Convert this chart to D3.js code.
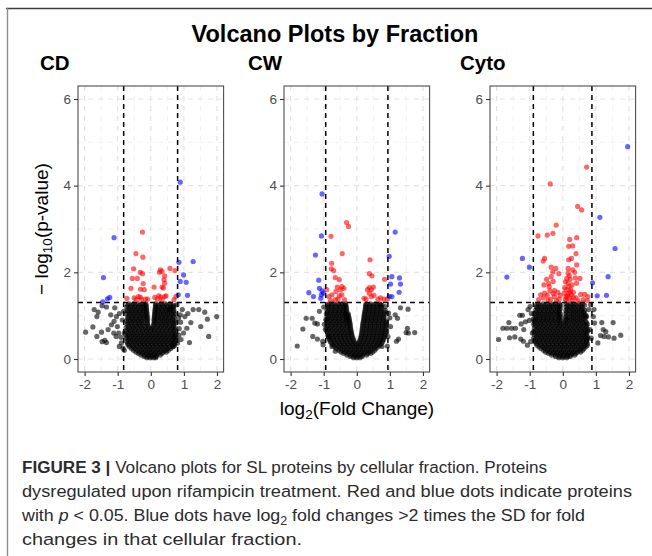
<!DOCTYPE html>
<html><head><meta charset="utf-8">
<script src="https://cdn.jsdelivr.net/npm/d3@7/dist/d3.min.js"></script>
<style>body{margin:0;background:#fff}svg{display:block}</style>
</head><body>
<svg id="c" width="652" height="556"></svg>
<script>
// ---------- data ----------
const panelNames = ["CD", "CW", "Cyto"];
const xTicks = [-2, -1, 0, 1, 2];
const yTicks = [0, 2, 4, 6];
const xMinor = [-1.5, -0.5, 0.5, 1.5];
const yMinor = [1, 3, 5];
const pCut = 1.301; // -log10(0.05)
const fcLow = [-0.82, -0.94, -0.89];
const fcHigh = [0.81, 0.94, 0.88];

const cdBlue = [[0.89,4.08],[-1.11,2.80],[0.85,2.23],[1.28,2.25],[-1.43,1.88],[0.99,1.94],[0.89,1.79],[1.07,1.77],[1.11,1.47],[0.83,1.48],[-1.24,1.42],[-1.31,1.39],[-1.45,1.32]];
const cdRed = [[-0.25,2.93],[-0.45,2.43],[-0.24,2.35],[-0.52,2.08],[-0.32,2.00],[-0.25,1.97],[-0.56,1.86],[-0.41,1.86],[-0.23,1.74],[-0.60,1.63],[-0.31,1.61],[-0.20,1.60],[-0.72,1.40],[-0.50,1.41],[-0.38,1.44],[-0.32,1.43],[-0.28,1.38],[-0.16,1.38],[-0.44,1.37],[0.10,1.66],[0.29,2.06],[0.34,2.02],[0.26,2.00],[0.42,1.92],[0.40,1.83],[0.58,2.09],[0.73,2.04],[0.42,1.75],[0.34,1.66],[0.38,1.64],[0.24,1.46],[0.30,1.43],[0.42,1.44],[0.12,1.42],[0.46,1.46],[0.70,1.37],[0.76,1.44],[0.20,1.38],[0.34,1.37],[-0.10,1.38]];
const cdBlack = [[-1.97,0.62],[-1.75,0.74],[-1.63,0.52],[-1.49,0.62],[-1.47,0.40],[-1.39,0.43],[-1.34,0.38],[-1.29,0.68],[-1.71,1.14],[-1.59,1.08],[-1.63,0.98],[-1.47,1.23],[-1.34,1.20],[-1.09,1.18],[-1.04,0.98],[-1.21,1.02],[-1.11,0.87],[-1.19,0.79],[-1.01,0.75],[-0.97,0.60],[-1.05,0.52],[-0.95,0.29],[-0.89,0.37],[-0.84,0.25],[1.28,1.14],[1.45,1.14],[1.63,1.08],[1.71,0.92],[1.99,0.98],[1.51,0.75],[1.75,0.52],[1.21,0.84],[1.17,0.38],[1.03,0.98],[0.89,1.02],[0.95,1.14],[1.09,0.71],[0.99,0.60],[0.91,0.45],[0.81,0.37],[0.68,0.29],[0.68,1.21],[0.79,1.25],[0.57,1.15],[-0.86,0.9],[-0.9,0.5],[0.86,0.7],[0.84,0.95],[-0.82,1.1],[-0.8,0.6],[-0.95,1.05],[-1.12,0.6],[0.85,0.55],[0.9,0.85],[1.12,1.05],[-0.8,0.2]];
const cdCore = [
 [0.03,[-0.12,-0.02,0.08,0.15]],
 [0.09,[-0.3,-0.19,-0.07,0.05,0.17,0.29]],
 [0.16,[-0.45,-0.34,-0.22,-0.1,0.02,0.14,0.26,0.38,0.47]],
 [0.24,[-0.58,-0.47,-0.35,-0.23,-0.11,0.01,0.13,0.25,0.37,0.49,0.6]],
 [0.32,[-0.68,-0.56,-0.44,-0.32,-0.2,-0.08,0.04,0.16,0.28,0.4,0.52,0.64,0.72]],
 [0.40,[-0.72,-0.61,-0.5,-0.38,-0.26,-0.14,-0.02,0.1,0.22,0.34,0.46,0.58,0.7]],
 [0.48,[-0.74,-0.63,-0.51,-0.39,-0.27,-0.15,-0.03,0.09,0.21,0.33,0.45,0.57,0.69,0.77]],
 [0.56,[-0.76,-0.65,-0.53,-0.41,-0.29,-0.17,-0.05,0.07,0.19,0.31,0.43,0.55,0.67,0.76]],
 [0.64,[-0.73,-0.61,-0.49,-0.37,-0.25,-0.13,-0.02,0.1,0.22,0.34,0.46,0.58,0.7]],
 [0.72,[-0.75,-0.64,-0.52,-0.4,-0.28,-0.16,-0.05,0.06,0.18,0.3,0.42,0.54,0.66,0.74]],
 [0.80,[-0.72,-0.6,-0.48,-0.36,-0.24,-0.1,0.09,0.22,0.34,0.46,0.58,0.7]],
 [0.88,[-0.74,-0.62,-0.5,-0.38,-0.26,-0.11,0.1,0.24,0.36,0.48,0.6,0.72]],
 [0.96,[-0.7,-0.58,-0.46,-0.34,-0.22,-0.11,0.11,0.22,0.34,0.46,0.58,0.7]],
 [1.04,[-0.74,-0.62,-0.5,-0.38,-0.26,-0.12,0.12,0.26,0.38,0.5,0.62,0.73]],
 [1.12,[-0.71,-0.59,-0.47,-0.35,-0.23,-0.13,0.13,0.24,0.36,0.48,0.6,0.7]],
 [1.20,[-0.73,-0.61,-0.49,-0.37,-0.25,-0.14,0.14,0.27,0.39,0.51,0.63]],
 [1.27,[-0.66,-0.52,-0.38,-0.26,-0.15,0.15,0.3,0.44,0.58]],
 [0.06,[-0.2,-0.08,0.04,0.16]],
 [0.13,[-0.38,-0.26,-0.14,-0.02,0.1,0.22,0.34]],
 [0.20,[-0.52,-0.4,-0.28,-0.16,-0.04,0.08,0.2,0.32,0.44,0.53]],
 [0.28,[-0.64,-0.52,-0.4,-0.28,-0.16,-0.04,0.08,0.2,0.32,0.44,0.56,0.66]],
 [0.36,[-0.7,-0.56,-0.44,-0.32,-0.2,-0.08,0.04,0.16,0.28,0.4,0.52,0.64,0.72]],
 [0.44,[-0.68,-0.56,-0.44,-0.32,-0.2,-0.08,0.04,0.16,0.28,0.4,0.52,0.64,0.74]],
 [0.52,[-0.7,-0.58,-0.46,-0.34,-0.22,-0.1,0.02,0.14,0.26,0.38,0.5,0.62,0.72]],
 [0.60,[-0.68,-0.56,-0.44,-0.32,-0.2,-0.08,0.04,0.16,0.28,0.4,0.52,0.64,0.74]],
 [0.68,[-0.7,-0.58,-0.46,-0.34,-0.22,-0.1,0.02,0.12,0.24,0.36,0.48,0.6,0.72]],
 [0.76,[-0.68,-0.56,-0.44,-0.32,-0.2,-0.08,0.07,0.2,0.32,0.44,0.56,0.68]],
 [0.84,[-0.7,-0.58,-0.46,-0.34,-0.22,-0.1,0.1,0.18,0.3,0.42,0.54,0.66,0.74]],
 [0.92,[-0.68,-0.56,-0.44,-0.32,-0.2,-0.1,0.1,0.18,0.3,0.42,0.54,0.66]],
 [1.00,[-0.66,-0.54,-0.42,-0.3,-0.18,-0.11,0.11,0.2,0.32,0.44,0.56,0.68]],
 [1.08,[-0.68,-0.56,-0.44,-0.32,-0.2,-0.12,0.12,0.2,0.32,0.44,0.56,0.68]],
 [1.16,[-0.66,-0.54,-0.42,-0.3,-0.2,-0.13,0.13,0.21,0.33,0.45,0.57,0.68]],
 [1.24,[-0.7,-0.58,-0.46,-0.33,-0.21,-0.14,0.14,0.23,0.35,0.47,0.6,0.7]]
];

const cwBlue = [[-1.05,3.81],[1.16,2.93],[-1.07,2.84],[-1.25,2.40],[0.98,2.37],[-1.15,1.82],[1.06,1.90],[1.29,1.87],[1.02,1.73],[1.32,1.73],[1.28,1.54],[-1.13,1.63],[-1.05,1.57],[-1.45,1.53],[-1.31,1.44],[-1.07,1.48],[-1.01,1.52],[-1.09,1.40],[0.98,1.44],[1.06,1.44]];
const cwRed = [[-0.31,3.15],[-0.25,3.06],[-0.78,2.83],[-0.44,2.43],[-0.76,2.21],[-0.77,2.08],[-0.70,2.04],[-0.65,1.88],[-0.53,1.83],[-0.59,1.66],[-0.45,1.67],[-0.49,1.60],[-0.39,1.63],[-0.63,1.56],[-0.75,1.48],[-0.91,1.60],[-0.85,1.44],[-0.53,1.46],[-0.45,1.48],[-0.57,1.38],[-0.65,1.37],[-0.37,1.37],[-0.79,1.35],[0.40,2.29],[0.38,1.97],[0.46,1.92],[0.84,1.84],[0.38,1.65],[0.50,1.66],[0.44,1.60],[0.32,1.60],[0.38,1.52],[0.22,1.40],[0.28,1.38],[0.44,1.44],[0.52,1.47],[0.72,1.41],[0.82,1.38],[0.92,1.38],[0.64,1.38]];
const cwBlack = [[-1.80,0.30],[-1.63,0.69],[-1.53,0.94],[-1.35,0.94],[-1.27,0.83],[-1.19,0.81],[-1.33,0.52],[-1.19,0.46],[-1.13,1.10],[-1.03,0.41],[-1.02,0.33],[-0.93,0.91],[-0.95,0.68],[-0.85,0.52],[-0.75,0.29],[-0.65,0.18],[1.55,1.15],[1.32,1.18],[1.16,1.02],[1.23,0.94],[1.53,0.71],[1.49,0.61],[1.75,0.61],[1.56,0.60],[1.26,0.46],[1.20,0.41],[1.02,0.75],[0.94,0.52],[0.76,0.29],[0.96,1.06],[0.72,1.25],[0.86,1.21],[-1.0,1.2],[-0.98,0.8],[1.0,0.95],[0.92,0.3]];
const cwCore = [
 [0.03,[-0.1,0,0.1]],
 [0.09,[-0.3,-0.18,-0.06,0.06,0.18,0.3]],
 [0.16,[-0.48,-0.36,-0.24,-0.12,0,0.12,0.24,0.36,0.48]],
 [0.24,[-0.62,-0.5,-0.38,-0.26,-0.14,-0.02,0.1,0.22,0.34,0.46,0.58]],
 [0.32,[-0.72,-0.6,-0.48,-0.36,-0.24,-0.12,0,0.12,0.24,0.36,0.48,0.6,0.7]],
 [0.40,[-0.8,-0.68,-0.56,-0.44,-0.32,-0.2,-0.08,0.08,0.2,0.32,0.44,0.56,0.68,0.78]],
 [0.48,[-0.84,-0.72,-0.6,-0.48,-0.36,-0.24,-0.12,0.12,0.24,0.36,0.48,0.6,0.72,0.82]],
 [0.56,[-0.88,-0.76,-0.64,-0.52,-0.4,-0.28,-0.15,0.14,0.26,0.38,0.5,0.62,0.74,0.86]],
 [0.64,[-0.9,-0.78,-0.66,-0.54,-0.42,-0.3,-0.17,0.16,0.28,0.4,0.52,0.64,0.76,0.88]],
 [0.72,[-0.92,-0.8,-0.68,-0.56,-0.44,-0.32,-0.19,0.17,0.29,0.41,0.53,0.65,0.77,0.89]],
 [0.80,[-0.9,-0.78,-0.66,-0.54,-0.42,-0.3,-0.2,0.18,0.3,0.42,0.54,0.66,0.78,0.9]],
 [0.88,[-0.92,-0.8,-0.68,-0.56,-0.44,-0.32,-0.22,0.2,0.32,0.44,0.56,0.68,0.8,0.9]],
 [0.96,[-0.9,-0.78,-0.66,-0.54,-0.42,-0.32,-0.24,0.22,0.34,0.46,0.58,0.7,0.82]],
 [1.04,[-0.92,-0.8,-0.68,-0.56,-0.44,-0.34,-0.26,0.23,0.35,0.47,0.59,0.71,0.83]],
 [1.12,[-0.9,-0.78,-0.66,-0.54,-0.42,-0.32,0.25,0.37,0.49,0.61,0.73,0.86]],
 [1.20,[-0.88,-0.76,-0.64,-0.52,-0.4,-0.32,0.26,0.38,0.5,0.62,0.74]],
 [1.27,[-0.84,-0.7,-0.56,-0.44,-0.34,0.28,0.42,0.56,0.7]],
 [0.06,[-0.2,-0.08,0.04,0.16]],
 [0.13,[-0.4,-0.28,-0.16,-0.04,0.08,0.2,0.32,0.42]],
 [0.20,[-0.54,-0.42,-0.3,-0.18,-0.06,0.06,0.18,0.3,0.42,0.54]],
 [0.28,[-0.66,-0.54,-0.42,-0.3,-0.18,-0.06,0.06,0.18,0.3,0.42,0.54,0.64]],
 [0.36,[-0.76,-0.64,-0.52,-0.4,-0.28,-0.16,-0.05,0.05,0.16,0.28,0.4,0.52,0.64,0.74]],
 [0.44,[-0.82,-0.7,-0.58,-0.46,-0.34,-0.22,-0.1,0.1,0.22,0.34,0.46,0.58,0.7,0.8]],
 [0.52,[-0.86,-0.74,-0.62,-0.5,-0.38,-0.26,-0.14,0.13,0.25,0.37,0.49,0.61,0.73,0.84]],
 [0.60,[-0.84,-0.72,-0.6,-0.48,-0.36,-0.24,-0.16,0.15,0.27,0.39,0.51,0.63,0.75,0.85]],
 [0.68,[-0.86,-0.74,-0.62,-0.5,-0.38,-0.26,-0.18,0.16,0.28,0.4,0.52,0.64,0.76,0.86]],
 [0.76,[-0.88,-0.76,-0.64,-0.52,-0.4,-0.28,-0.2,0.18,0.3,0.42,0.54,0.66,0.78,0.88]],
 [0.84,[-0.86,-0.74,-0.62,-0.5,-0.38,-0.28,-0.21,0.19,0.3,0.42,0.54,0.66,0.78,0.88]],
 [0.92,[-0.88,-0.76,-0.64,-0.52,-0.4,-0.3,-0.23,0.21,0.32,0.44,0.56,0.68,0.8]],
 [1.00,[-0.86,-0.74,-0.62,-0.5,-0.38,-0.3,-0.25,0.22,0.34,0.46,0.58,0.7,0.82]],
 [1.08,[-0.88,-0.76,-0.64,-0.52,-0.4,-0.3,0.24,0.36,0.48,0.6,0.72,0.84]],
 [1.16,[-0.86,-0.74,-0.62,-0.5,-0.38,-0.31,0.26,0.38,0.5,0.62,0.74]],
 [1.24,[-0.86,-0.76,-0.64,-0.52,-0.4,-0.33,0.27,0.38,0.5,0.62,0.76]]
];

const cyBlue = [[1.96,4.90],[1.12,3.27],[1.58,2.55],[-1.22,2.32],[-1.01,2.12],[-1.69,1.89],[1.37,1.90],[0.90,1.76],[1.04,1.46],[1.32,1.47]];
const cyRed = [[0.72,4.43],[-0.38,4.04],[0.45,3.52],[0.57,3.44],[-0.20,3.09],[-0.75,2.84],[-0.47,2.86],[-0.30,2.90],[0.42,2.80],[0.21,2.76],[0.30,2.61],[0.18,2.60],[0.40,2.43],[0.26,2.32],[0.18,2.29],[-0.55,2.32],[-0.59,2.26],[0.42,2.17],[-0.35,2.12],[-0.21,2.09],[-0.30,2.01],[-0.12,1.97],[0.16,1.98],[0.36,2.00],[0.12,1.86],[0.22,1.84],[0.38,1.87],[0.52,1.86],[-0.49,1.84],[-0.35,1.90],[-0.57,1.71],[-0.43,1.74],[-0.29,1.79],[0.16,1.75],[0.28,1.71],[0.42,1.75],[0.24,1.61],[0.18,1.52],[0.32,1.54],[-0.55,1.52],[-0.39,1.57],[-0.25,1.58],[-0.15,1.54],[-0.29,1.51],[-0.67,1.48],[-0.47,1.47],[-0.59,1.41],[-0.73,1.37],[-0.37,1.38],[-0.25,1.44],[-0.19,1.35],[0.10,1.44],[0.20,1.41],[0.12,1.35],[0.28,1.35],[0.40,1.41],[0.54,1.49],[0.66,1.49],[0.76,1.44],[0.62,1.37],[0.46,1.34],[0.74,1.35],[0.18,1.67],[0.10,1.60],[0.16,2.09],[0.30,2.06],[-0.41,1.67],[-0.11,1.38],[0.04,1.52],[0.08,1.38],[0.14,1.46],[0.22,1.55],[0.06,1.65],[0.26,1.48],[0.32,1.42],[-0.08,1.47],[-0.45,1.36],[0.20,1.92],[0.08,1.78]];
const cyBlack = [[-1.94,0.45],[-1.63,0.84],[-1.81,0.71],[-1.69,0.71],[-1.55,0.71],[-1.43,0.71],[-1.61,0.49],[-1.45,0.51],[-1.30,1.01],[-1.22,1.01],[-1.26,0.81],[-1.18,0.68],[-1.27,0.46],[-1.19,0.41],[-1.13,0.86],[-1.01,0.89],[-1.05,1.14],[-0.99,1.21],[-1.07,0.32],[-0.97,0.40],[-0.89,0.92],[1.75,0.55],[1.52,0.84],[1.55,0.48],[1.38,0.51],[1.25,0.52],[1.22,0.68],[1.30,0.63],[1.14,0.54],[1.18,0.84],[0.96,0.83],[0.92,0.98],[0.94,1.14],[0.78,1.14],[0.72,0.98],[0.82,0.68],[0.86,0.48],[1.06,0.37],[0.72,0.45],[-0.92,0.6],[-0.95,1.05],[0.84,1.25]];
const cyCore = [
 [0.03,[-0.12,0,0.12]],
 [0.09,[-0.34,-0.22,-0.1,0.02,0.14,0.26,0.36]],
 [0.16,[-0.52,-0.4,-0.28,-0.16,-0.04,0.08,0.2,0.32,0.44,0.54]],
 [0.24,[-0.66,-0.54,-0.42,-0.3,-0.18,-0.06,0.06,0.18,0.3,0.42,0.54,0.64]],
 [0.32,[-0.78,-0.66,-0.54,-0.42,-0.3,-0.18,-0.06,0.06,0.18,0.3,0.42,0.54,0.66,0.74]],
 [0.40,[-0.84,-0.72,-0.6,-0.48,-0.36,-0.24,-0.12,0,0.12,0.24,0.36,0.48,0.6,0.72]],
 [0.48,[-0.88,-0.76,-0.64,-0.52,-0.4,-0.28,-0.16,-0.04,0.08,0.2,0.32,0.44,0.56,0.68,0.76]],
 [0.56,[-0.86,-0.74,-0.62,-0.5,-0.38,-0.26,-0.14,-0.02,0.1,0.22,0.34,0.46,0.58,0.7]],
 [0.64,[-0.88,-0.76,-0.64,-0.52,-0.4,-0.28,-0.16,-0.04,0.08,0.2,0.32,0.44,0.56,0.68,0.76]],
 [0.72,[-0.86,-0.74,-0.62,-0.5,-0.38,-0.26,-0.14,-0.02,0.1,0.22,0.34,0.46,0.58,0.7]],
 [0.80,[-0.88,-0.76,-0.64,-0.52,-0.4,-0.28,-0.16,-0.05,0.07,0.18,0.3,0.42,0.54,0.66,0.74]],
 [0.88,[-0.86,-0.74,-0.62,-0.5,-0.38,-0.26,-0.14,-0.06,0.08,0.2,0.32,0.44,0.56,0.68]],
 [0.96,[-0.84,-0.72,-0.6,-0.48,-0.36,-0.24,-0.12,-0.06,0.08,0.2,0.32,0.44,0.56,0.68]],
 [1.04,[-0.86,-0.74,-0.62,-0.5,-0.38,-0.26,-0.14,-0.07,0.09,0.2,0.32,0.44,0.56,0.66]],
 [1.12,[-0.82,-0.7,-0.58,-0.46,-0.34,-0.22,-0.1,0.09,0.2,0.32,0.44,0.56,0.66]],
 [1.20,[-0.8,-0.68,-0.56,-0.44,-0.32,-0.2,-0.1,0.1,0.22,0.34,0.46,0.58]],
 [1.27,[-0.74,-0.6,-0.46,-0.34,-0.22,-0.1,0.1,0.22,0.34,0.48,0.6]],
 [0.06,[-0.22,-0.1,0.02,0.14,0.22]],
 [0.13,[-0.44,-0.32,-0.2,-0.08,0.04,0.16,0.28,0.4]],
 [0.20,[-0.58,-0.46,-0.34,-0.22,-0.1,0.02,0.14,0.26,0.38,0.5,0.6]],
 [0.28,[-0.72,-0.6,-0.48,-0.36,-0.24,-0.12,0,0.12,0.24,0.36,0.48,0.6,0.7]],
 [0.36,[-0.8,-0.68,-0.56,-0.44,-0.32,-0.2,-0.08,0.04,0.16,0.28,0.4,0.52,0.64,0.74]],
 [0.44,[-0.82,-0.7,-0.58,-0.46,-0.34,-0.22,-0.1,0.02,0.14,0.26,0.38,0.5,0.62,0.72]],
 [0.52,[-0.8,-0.68,-0.56,-0.44,-0.32,-0.2,-0.08,0.04,0.16,0.28,0.4,0.52,0.64,0.74]],
 [0.60,[-0.82,-0.7,-0.58,-0.46,-0.34,-0.22,-0.1,0.02,0.14,0.26,0.38,0.5,0.62,0.72]],
 [0.68,[-0.8,-0.68,-0.56,-0.44,-0.32,-0.2,-0.08,0.04,0.16,0.28,0.4,0.52,0.64,0.74]],
 [0.76,[-0.82,-0.7,-0.58,-0.46,-0.34,-0.22,-0.1,0.02,0.14,0.26,0.38,0.5,0.62,0.72]],
 [0.84,[-0.8,-0.68,-0.56,-0.44,-0.32,-0.2,-0.09,0.02,0.13,0.26,0.38,0.5,0.62,0.72]],
 [0.92,[-0.82,-0.7,-0.58,-0.46,-0.34,-0.22,-0.1,0.1,0.14,0.26,0.38,0.5,0.62]],
 [1.00,[-0.8,-0.68,-0.56,-0.44,-0.32,-0.2,-0.1,0.12,0.26,0.38,0.5,0.62,0.7]],
 [1.08,[-0.8,-0.68,-0.56,-0.44,-0.32,-0.2,-0.11,0.12,0.26,0.38,0.5,0.62]],
 [1.16,[-0.76,-0.64,-0.52,-0.4,-0.28,-0.16,-0.08,0.14,0.26,0.38,0.5,0.6]],
 [1.24,[-0.8,-0.68,-0.54,-0.4,-0.28,-0.16,-0.06,0.14,0.28,0.4,0.54,0.66]]
];

const captionLines = [
  "Volcano plots for SL proteins by cellular fraction. Proteins",
  "dysregulated upon rifampicin treatment. Red and blue dots indicate proteins",
  "changes in that cellular fraction."
];

const panelData = [
  {black: cdBlack, core: cdCore, red: cdRed, blue: cdBlue},
  {black: cwBlack, core: cwCore, red: cwRed, blue: cwBlue},
  {black: cyBlack, core: cyCore, red: cyRed, blue: cyBlue}
];

// ---------- layout ----------
const svg = d3.select("#c");
const FONT = "'Liberation Sans', Arial, Helvetica, sans-serif";
const panelLeft = [78, 284, 490];
const panelW = 145.6, panelTop = 86, panelH = 286;

// figure frame
svg.append("line").attr("x1", 6).attr("x2", 652).attr("y1", 8.5).attr("y2", 8.5)
  .attr("stroke", "#3c3c3c").attr("stroke-width", 1.6);
svg.append("line").attr("x1", 7.5).attr("x2", 7.5).attr("y1", 8).attr("y2", 556)
  .attr("stroke", "#8c8c8c").attr("stroke-width", 1.4);

svg.append("text").attr("x", 335).attr("y", 42).attr("text-anchor", "middle")
  .attr("font-family", FONT).attr("font-weight", "bold").attr("font-size", 23.5)
  .attr("fill", "#000").text("Volcano Plots by Fraction");

panelNames.forEach((name, i) => {
  const L = panelLeft[i];
  const x = d3.scaleLinear().domain([-2.2, 2.2]).range([L, L + panelW]);
  const y = d3.scaleLinear().domain([-0.3, 6.3]).range([panelTop + panelH, panelTop]);
  const g = svg.append("g");
  const tagX = [40, 248, 460][i];
  svg.append("text").attr("x", tagX).attr("y", 70)
    .attr("font-family", FONT).attr("font-weight", "bold").attr("font-size", 20.5)
    .attr("fill", "#000").text(name);

  // grid
  const grid = g.append("g").attr("fill", "none");
  xMinor.forEach(v => grid.append("line").attr("x1", x(v)).attr("x2", x(v)).attr("y1", panelTop).attr("y2", panelTop + panelH)
    .attr("stroke", "#ececec").attr("stroke-width", 0.8).attr("stroke-dasharray", "5,5"));
  yMinor.forEach(v => grid.append("line").attr("x1", L).attr("x2", L + panelW).attr("y1", y(v)).attr("y2", y(v))
    .attr("stroke", "#ececec").attr("stroke-width", 0.8).attr("stroke-dasharray", "5,5"));
  xTicks.forEach(v => grid.append("line").attr("x1", x(v)).attr("x2", x(v)).attr("y1", panelTop).attr("y2", panelTop + panelH)
    .attr("stroke", "#e3e3e3").attr("stroke-width", 1.2).attr("stroke-dasharray", "5,5"));
  yTicks.forEach(v => grid.append("line").attr("x1", L).attr("x2", L + panelW).attr("y1", y(v)).attr("y2", y(v))
    .attr("stroke", "#e3e3e3").attr("stroke-width", 1.2).attr("stroke-dasharray", "5,5"));

  // points
  const pd = panelData[i];
  const corePts = [];
  pd.core.forEach(([yy, xs]) => xs.forEach(xx => corePts.push([xx, yy])));
  const blackPts = corePts.concat(pd.black);
  const layers = [[blackPts, "#000000"], [pd.red, "#ff0000"], [pd.blue, "#0000ff"]];
  const clip = "clip" + i;
  svg.append("clipPath").attr("id", clip).append("rect")
    .attr("x", L).attr("y", panelTop).attr("width", panelW).attr("height", panelH);
  const pts = g.append("g").attr("clip-path", `url(#${clip})`);
  layers.forEach(([arr, col]) => {
    pts.append("g").selectAll("circle").data(arr).join("circle")
      .attr("cx", d => x(d[0])).attr("cy", d => y(d[1])).attr("r", 2.6)
      .attr("fill", col).attr("fill-opacity", 0.6);
  });

  // threshold lines
  [fcLow[i], fcHigh[i]].forEach(v => g.append("line").attr("x1", x(v)).attr("x2", x(v))
    .attr("y1", panelTop).attr("y2", panelTop + panelH)
    .attr("stroke", "#000").attr("stroke-width", 1.5).attr("stroke-dasharray", "5,4"));
  g.append("line").attr("x1", L).attr("x2", L + panelW).attr("y1", y(pCut)).attr("y2", y(pCut))
    .attr("stroke", "#000").attr("stroke-width", 1.5).attr("stroke-dasharray", "5,4");

  // border
  g.append("rect").attr("x", L).attr("y", panelTop).attr("width", panelW).attr("height", panelH)
    .attr("fill", "none").attr("stroke", "#4d4d4d").attr("stroke-width", 1.1);

  // axes
  const ax = g.append("g").attr("transform", `translate(0,${panelTop + panelH})`)
    .call(d3.axisBottom(x).tickValues(xTicks).tickSize(4).tickPadding(3).tickFormat(d => String(d)));
  const ay = g.append("g").attr("transform", `translate(${L},0)`)
    .call(d3.axisLeft(y).tickValues(yTicks).tickSize(4).tickPadding(3).tickFormat(d => String(d)));
  [ax, ay].forEach(a => {
    a.select(".domain").remove();
    a.selectAll(".tick line").attr("stroke", "#333").attr("stroke-width", 1.1);
    a.selectAll(".tick text").attr("fill", "#4d4d4d").attr("font-size", 13.5).attr("font-family", FONT);
  });
});

// axis titles
const yt = svg.append("text").attr("transform", "translate(48,229) rotate(-90)")
  .attr("text-anchor", "middle").attr("font-family", FONT).attr("font-size", 19).attr("fill", "#000");
yt.append("tspan").text("\u2212 log");
yt.append("tspan").attr("font-size", 13.5).attr("dy", 4).text("10");
yt.append("tspan").attr("dy", -4).text("(p-value)");

const xt = svg.append("text").attr("x", 357).attr("y", 415).attr("text-anchor", "middle")
  .attr("font-family", FONT).attr("font-size", 19).attr("fill", "#000");
xt.append("tspan").text("log");
xt.append("tspan").attr("font-size", 13.5).attr("dy", 4).text("2");
xt.append("tspan").attr("dy", -4).text("(Fold Change)");

// caption
const cap = svg.append("g").attr("font-family", FONT).attr("font-size", 17.2).attr("fill", "#2b2b2b");
const capEnds = [547, 632, 585, 302];
const l1 = cap.append("text").attr("x", 22).attr("y", 473);
l1.append("tspan").attr("font-weight", "bold").text("FIGURE 3 |");
l1.append("tspan").text(" " + captionLines[0]);
const l2 = cap.append("text").attr("x", 22).attr("y", 497).text(captionLines[1]);
const l3 = cap.append("text").attr("x", 22).attr("y", 521);
l3.append("tspan").text("with ");
l3.append("tspan").attr("font-style", "italic").text("p");
l3.append("tspan").text(" < 0.05. Blue dots have log");
l3.append("tspan").attr("font-size", 12).attr("dy", 4).text("2");
l3.append("tspan").attr("dy", -4).text(" fold changes >2 times the SD for fold");
const l4 = cap.append("text").attr("x", 22).attr("y", 545).text(captionLines[2]);
[l1, l2, l3, l4].forEach((t, k) => t.attr("textLength", capEnds[k] - 22).attr("lengthAdjust", "spacingAndGlyphs"));
</script>
</body></html>
